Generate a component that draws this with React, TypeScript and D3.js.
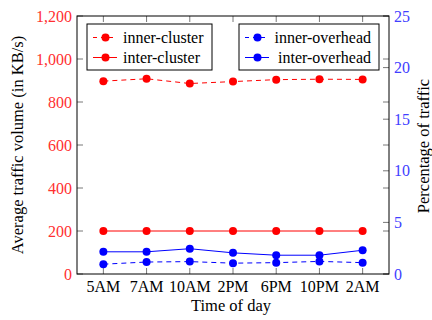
import React, { useEffect, useRef } from "react";
import * as d3 from "d3";

const times = ["5AM", "7AM", "10AM", "2PM", "6PM", "10PM", "2AM"];
const innerCluster = [897, 908, 886, 895, 904, 906, 905];
const interCluster = [200, 200, 200, 200, 200, 200, 200];
// overhead series are read against the right axis (percent)
const innerOverhead = [0.95, 1.16, 1.2, 1.05, 1.1, 1.22, 1.1];
const interOverhead = [2.15, 2.15, 2.45, 2.05, 1.82, 1.82, 2.3];
const leftTicks = [0, 200, 400, 600, 800, 1000, 1200];
const rightTicks = [0, 5, 10, 15, 20, 25];

export default function App() {
  const ref = useRef<SVGSVGElement>(null);

  useEffect(() => {
    document.body.style.margin = "0";
    const svg = d3.select(ref.current);
    svg.selectAll("*").remove();

    const width = 432;
    const height = 320;
    const m = { left: 77, right: 389, top: 16, bottom: 274 };
    const tickGray = "#555";

    svg.attr("font-family", "'Liberation Serif', 'DejaVu Serif', serif").attr("font-size", 16);
    svg.append("rect").attr("width", width).attr("height", height).attr("fill", "#fff");

    const x = d3.scalePoint<string>().domain(times).range([m.left, m.right]).padding(0.61);
    const yL = d3.scaleLinear().domain([0, 1200]).range([m.bottom, m.top]);
    const yR = d3.scaleLinear().domain([0, 25]).range([m.bottom, m.top]);

    const tl = 6;
    const ticks = svg.append("g").attr("stroke", tickGray).attr("stroke-width", 0.8);
    // x ticks, bottom and top, inward
    times.forEach((t) => {
      ticks.append("line").attr("x1", x(t)!).attr("x2", x(t)!).attr("y1", m.bottom).attr("y2", m.bottom - tl);
      ticks.append("line").attr("x1", x(t)!).attr("x2", x(t)!).attr("y1", m.top).attr("y2", m.top + tl);
    });
    // left ticks, mirrored on right
    leftTicks.forEach((v) => {
      ticks.append("line").attr("x1", m.left).attr("x2", m.left + tl).attr("y1", yL(v)).attr("y2", yL(v));
      ticks.append("line").attr("x1", m.right).attr("x2", m.right - tl).attr("y1", yL(v)).attr("y2", yL(v));
    });
    rightTicks.forEach((v) => {
      ticks.append("line").attr("x1", m.right).attr("x2", m.right - tl).attr("y1", yR(v)).attr("y2", yR(v));
    });

    // frame
    svg.append("rect")
      .attr("x", m.left).attr("y", m.top)
      .attr("width", m.right - m.left).attr("height", m.bottom - m.top)
      .attr("fill", "none").attr("stroke", "#000").attr("stroke-width", 1);

    // tick labels
    svg.append("g").selectAll("text").data(leftTicks).enter().append("text")
      .attr("x", 72).attr("y", (d) => yL(d)).attr("dy", "0.35em")
      .attr("text-anchor", "end").attr("fill", "#ff3030")
      .text((d) => d3.format(",")(d));

    svg.append("g").selectAll("text").data(rightTicks).enter().append("text")
      .attr("x", 394).attr("y", (d) => yR(d)).attr("dy", "0.35em")
      .attr("text-anchor", "start").attr("fill", "#4040ff")
      .text((d) => d);

    svg.append("g").selectAll("text").data(times).enter().append("text")
      .attr("x", (d) => x(d)!).attr("y", 292)
      .attr("text-anchor", "middle").attr("fill", "#000")
      .text((d) => d);

    // axis titles
    svg.append("text").attr("x", 231).attr("y", 311).attr("text-anchor", "middle")
      .attr("font-size", 16.5).text("Time of day");
    svg.append("text").attr("transform", `translate(23, 145) rotate(-90)`).attr("text-anchor", "middle")
      .attr("font-size", 16.5).text("Average traffic volume (in KB/s)");
    svg.append("text").attr("transform", `translate(429, 146) rotate(-90)`).attr("text-anchor", "middle")
      .attr("font-size", 16.5).text("Percentage of traffic");

    const series = [
      { values: innerCluster, y: yL, color: "red", dash: "5,4" },
      { values: interCluster, y: yL, color: "red", dash: null },
      { values: innerOverhead, y: yR, color: "blue", dash: "5,4" },
      { values: interOverhead, y: yR, color: "blue", dash: null },
    ];

    series.forEach((s) => {
      const line = d3.line<number>().x((d, i) => x(times[i])!).y((d) => s.y(d));
      svg.append("path").datum(s.values)
        .attr("d", line).attr("fill", "none")
        .attr("stroke", s.color).attr("stroke-width", 1)
        .attr("stroke-dasharray", s.dash);
      svg.append("g").selectAll("circle").data(s.values).enter().append("circle")
        .attr("cx", (d, i) => x(times[i])!).attr("cy", (d) => s.y(d))
        .attr("r", 4).attr("fill", s.color);
    });

    // legends
    const legends = [
      { x0: 87, x1: 212, align: "start", items: [
        { label: "inner-cluster", color: "red", dash: "4,4" },
        { label: "inter-cluster", color: "red", dash: null },
      ] },
      { x0: 239, x1: 379, align: "end", items: [
        { label: "inner-overhead", color: "blue", dash: "4,4" },
        { label: "inter-overhead", color: "blue", dash: null },
      ] },
    ];
    legends.forEach((lg) => {
      const g = svg.append("g");
      g.append("rect").attr("x", lg.x0).attr("y", 24).attr("width", lg.x1 - lg.x0).attr("height", 46)
        .attr("fill", "#fff").attr("stroke", "#000").attr("stroke-width", 1);
      lg.items.forEach((it, i) => {
        const yy = 37.5 + i * 20;
        g.append("line").attr("x1", lg.x0 + 6).attr("x2", lg.x0 + 30).attr("y1", yy).attr("y2", yy)
          .attr("stroke", it.color).attr("stroke-dasharray", it.dash);
        g.append("circle").attr("cx", lg.x0 + 18.5).attr("cy", yy).attr("r", 4).attr("fill", it.color);
        g.append("text")
          .attr("x", lg.align === "start" ? lg.x0 + 36 : lg.x1 - 8)
          .attr("y", yy).attr("dy", "0.32em")
          .attr("text-anchor", lg.align).text(it.label);
      });
    });
  }, []);

  return <svg ref={ref} width={432} height={320} style={{ display: "block" }} />;
}
